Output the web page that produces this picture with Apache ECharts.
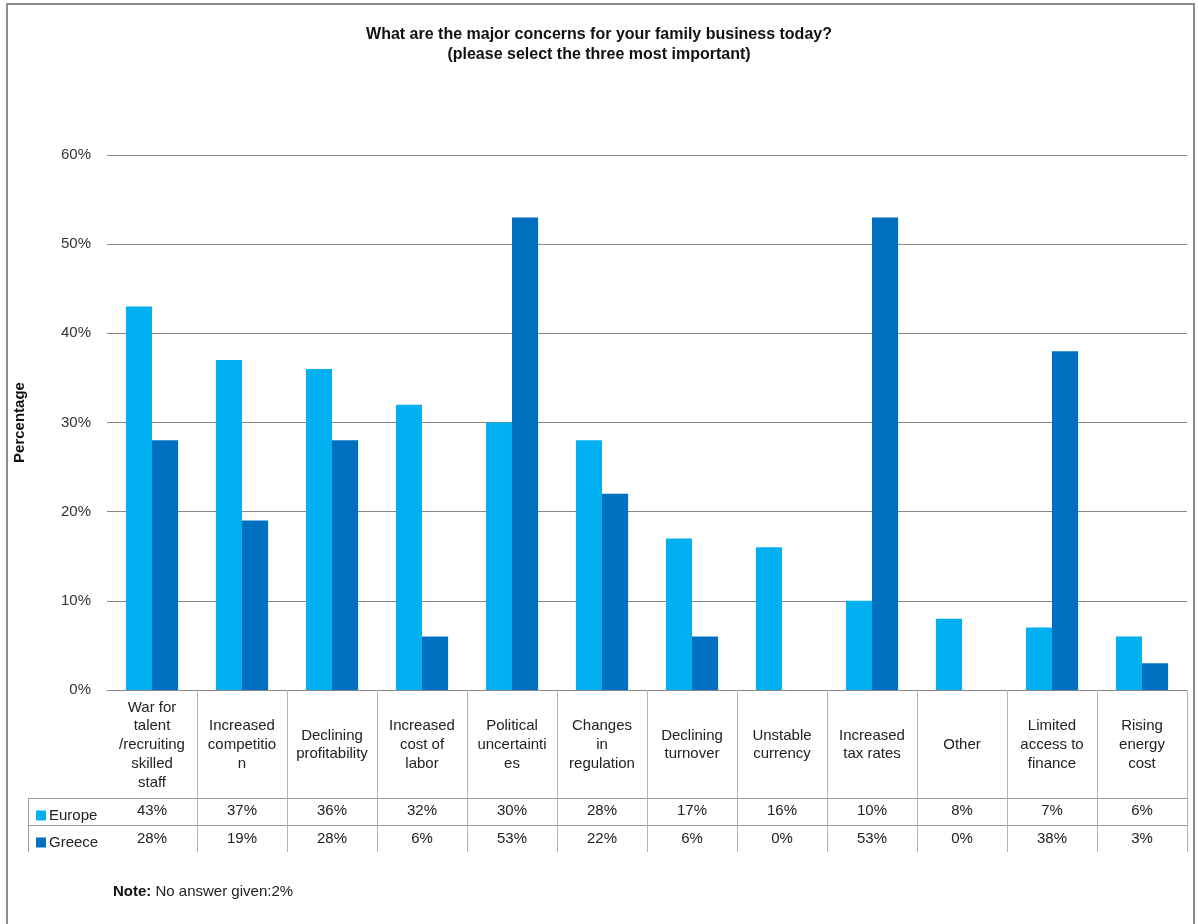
<!DOCTYPE html>
<html>
<head>
<meta charset="utf-8">
<script src="https://cdn.jsdelivr.net/npm/echarts@6/dist/echarts.min.js"></script>
<style>
  html, body { margin: 0; padding: 0; background: #fff; }
  #chart { width: 1198px; height: 924px; }
</style>
</head>
<body>
<div id="chart"></div>
<script>
// Survey answers: share of respondents naming each concern
const categories = [
  'War for\ntalent\n/recruiting\nskilled\nstaff',
  'Increased\ncompetitio\nn',
  'Declining\nprofitability',
  'Increased\ncost of\nlabor',
  'Political\nuncertainti\nes',
  'Changes\nin\nregulation',
  'Declining\nturnover',
  'Unstable\ncurrency',
  'Increased\ntax rates',
  'Other',
  'Limited\naccess to\nfinance',
  'Rising\nenergy\ncost'
];
const europe = [43, 37, 36, 32, 30, 28, 17, 16, 10, 8, 7, 6];
const greece = [28, 19, 28, 6, 53, 22, 6, 0, 53, 0, 38, 3];
const yTicks = [0, 10, 20, 30, 40, 50, 60];

const FONT = '"Liberation Sans", Arial, sans-serif';
const FS = 15;
const TEXT = '#222';
const TABLE_LINE = '#b4b4b4';

const chart = echarts.init(document.getElementById('chart'), null, { renderer: 'canvas' });

// Table rows below the axis reuse the same category scale via extra x axes
function valueRowAxis(values, margin) {
  return {
    type: 'category',
    data: categories,
    position: 'bottom',
    gridIndex: 0,
    axisLine: { show: false },
    axisTick: { show: false },
    axisLabel: {
      interval: 0,
      margin: margin,
      verticalAlign: 'middle',
      fontFamily: FONT,
      fontSize: FS,
      color: TEXT,
      formatter: (v, i) => values[i] + '%'
    }
  };
}

const legendText = { fontFamily: FONT, fontSize: FS, color: TEXT, padding: [0, 0, 0, -2] };

const option = {
  animation: false,
  backgroundColor: '#fff',
  title: {
    text: 'What are the major concerns for your family business today?\n(please select the three most important)',
    left: 'center',
    top: 20,
    textStyle: { fontFamily: FONT, fontSize: 16, fontWeight: 'bold', color: '#111', lineHeight: 20 }
  },
  legend: [
    {
      data: ['Europe'], left: 31, top: 803, icon: 'rect', itemWidth: 10, itemHeight: 10, itemGap: 0,
      selectedMode: false, textStyle: legendText
    },
    {
      data: ['Greece'], left: 31, top: 830, icon: 'rect', itemWidth: 10, itemHeight: 10, itemGap: 0,
      selectedMode: false, textStyle: legendText
    }
  ],
  grid: { left: 107, right: 11, top: 155, bottom: 234, containLabel: false },
  xAxis: [
    {
      type: 'category',
      data: categories,
      position: 'bottom',
      axisLine: { show: true, lineStyle: { color: '#888', width: 1 } },
      axisTick: {
        show: true,
        interval: (idx) => idx !== 0,
        length: 162,
        lineStyle: { color: TABLE_LINE, width: 1 }
      },
      axisLabel: {
        interval: 0,
        margin: 55,
        verticalAlign: 'middle',
        fontFamily: FONT,
        fontSize: FS,
        lineHeight: 18.7,
        color: TEXT
      }
    },
    valueRowAxis(europe, 121),
    valueRowAxis(greece, 149)
  ],
  yAxis: {
    type: 'value',
    min: 0,
    max: 60,
    interval: 10,
    name: 'Percentage',
    nameLocation: 'middle',
    nameGap: 80,
    nameTextStyle: { fontFamily: FONT, fontSize: FS, fontWeight: 'bold', color: '#111' },
    axisLine: { show: false },
    axisTick: { show: false },
    axisLabel: {
      margin: 16,
      fontFamily: FONT,
      fontSize: FS,
      color: '#333',
      formatter: (v) => (yTicks.indexOf(v) >= 0 ? v + '%' : '')
    },
    splitLine: { show: true, lineStyle: { color: '#888', width: 1 } }
  },
  series: [
    {
      name: 'Europe',
      type: 'bar',
      data: europe,
      barGap: '0%',
      barCategoryGap: '42%',
      itemStyle: { color: '#00B0F0' }
    },
    {
      name: 'Greece',
      type: 'bar',
      data: greece,
      barGap: '0%',
      barCategoryGap: '42%',
      itemStyle: { color: '#0070C0' }
    }
  ]
};

chart.setOption(option);

// Data table ruling and footnote, placed from the grid's own coordinates
const c0 = chart.convertToPixel({ xAxisIndex: 0 }, 0);
const step = chart.convertToPixel({ xAxisIndex: 0 }, 1) - c0;
const x0 = c0 - step / 2;
const xEnd = x0 + step * categories.length;
const yZero = chart.convertToPixel({ yAxisIndex: 0 }, 0);
const row1 = yZero + 108;
const row2 = yZero + 135;
const rowEnd = yZero + 162;
const tableLeft = 28;

chart.setOption({
  graphic: [
    {
      type: 'rect', silent: true, z: 0,
      shape: { x: 7, y: 4, width: 1187, height: 940 },
      style: { fill: null, stroke: '#8c8c8c', lineWidth: 2 }
    },
    {
      type: 'line', silent: true,
      shape: { x1: tableLeft, y1: row1 + 0.5, x2: xEnd, y2: row1 + 0.5 },
      style: { stroke: '#999', lineWidth: 1 }
    },
    {
      type: 'line', silent: true,
      shape: { x1: tableLeft, y1: row2 + 0.5, x2: xEnd, y2: row2 + 0.5 },
      style: { stroke: '#999', lineWidth: 1 }
    },
    {
      type: 'line', silent: true,
      shape: { x1: tableLeft + 0.5, y1: row1, x2: tableLeft + 0.5, y2: rowEnd },
      style: { stroke: '#999', lineWidth: 1 }
    },
    {
      type: 'line', silent: true,
      shape: { x1: Math.round(xEnd) + 0.5, y1: yZero, x2: Math.round(xEnd) + 0.5, y2: rowEnd },
      style: { stroke: TABLE_LINE, lineWidth: 1 }
    },
    {
      type: 'text', silent: true,
      left: 113, top: 884,
      style: {
        text: '{b|Note:} No answer given:2%',
        font: FS + 'px ' + FONT,
        fill: TEXT,
        rich: { b: { fontWeight: 'bold', fontSize: FS, fontFamily: FONT, fill: '#111' } }
      }
    }
  ]
});
</script>
</body>
</html>
